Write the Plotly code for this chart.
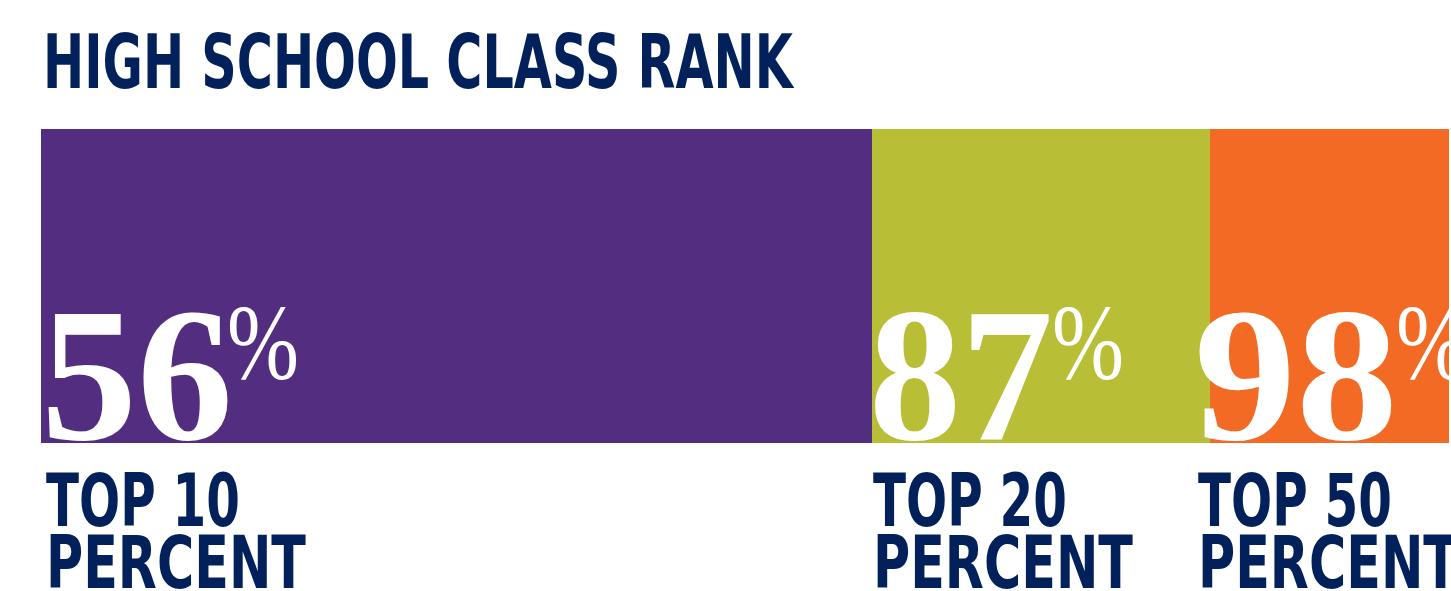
import json
import plotly.graph_objects as go

# ---- data ----
title_text = "HIGH SCHOOL CLASS RANK"
rank_line1 = ["TOP 10", "TOP 20", "TOP 50"]
rank_line2 = ["PERCENT", "PERCENT", "PERCENT"]
percent_values = [56, 87, 98]
segment_widths = [56, 22.8, 16.1]   # visual length of each coloured block
bar_colors = ["#522d80", "#b8be36", "#f26a24"]

# ---- style ----
NAVY = "#02215b"
SANS = "DejaVu Sans Condensed, DejaVu Sans, sans-serif"
SERIF = "Liberation Serif, Times New Roman, serif"
W, H = 1451, 591
ML, MR, MT, MB = 41, 2, 129, 148
PH = H - MT - MB

def py(p):
    return (H - MB - p) / PH

num_dx = [-2, -5, -18]
pct_dx = [-4, -7, 12]
lab_dx = [3, -1, -14]

# condensed / widened text widths (px) to mimic the original faces
text_widths = {title_text: 750, "TOP 10": 194, "TOP 20": 194, "TOP 50": 194,
               "PERCENT": 260, "%": 72, "56": 192, "87": 184, "98": 204}

fig = go.Figure()
starts = []
acc = 0
for name, w, c in zip(rank_line1, segment_widths, bar_colors):
    fig.add_trace(go.Bar(x=[w], y=[0], orientation="h", width=1,
                         marker=dict(color=c, line=dict(width=0)),
                         name=name, hoverinfo="skip"))
    starts.append(acc)
    acc += w

for i, (st, v) in enumerate(zip(starts, percent_values)):
    fig.add_annotation(x=st, xref="x", y=py(268), yref="paper",
                       xanchor="left", yanchor="top", xshift=num_dx[i], align="left",
                       text=str(v), showarrow=False,
                       font=dict(family=SERIF, size=190, color="white", weight="bold"))
    fig.add_annotation(x=st, xref="x", y=py(281), yref="paper",
                       xanchor="left", yanchor="top", xshift=num_dx[i] + 190 + pct_dx[i],
                       align="left", text="%", showarrow=False,
                       font=dict(family=SERIF, size=108, color="white"))
    fig.add_annotation(x=st, xref="x", y=py(456), yref="paper",
                       xanchor="left", yanchor="top", xshift=lab_dx[i], align="left",
                       text=rank_line1[i], showarrow=False,
                       font=dict(family=SANS, size=73, color=NAVY, weight="bold"))
    fig.add_annotation(x=st, xref="x", y=py(518), yref="paper",
                       xanchor="left", yanchor="top", xshift=lab_dx[i], align="left",
                       text=rank_line2[i], showarrow=False,
                       font=dict(family=SANS, size=73, color=NAVY, weight="bold"))

fig.add_annotation(x=(41 - ML) / (W - ML - MR), xref="paper", y=py(17), yref="paper",
                   xanchor="left", yanchor="top", align="left", text=title_text,
                   showarrow=False, font=dict(family=SANS, size=74, color=NAVY, weight="bold"))

fig.update_layout(
    barmode="stack", width=W, height=H, autosize=False,
    margin=dict(l=ML, r=MR, t=MT, b=MB, pad=0),
    paper_bgcolor="white", plot_bgcolor="white", showlegend=False,
    xaxis=dict(range=[0, acc], visible=False, fixedrange=True),
    yaxis=dict(range=[-0.5, 0.5], visible=False, fixedrange=True),
    bargap=0,
)

post = (
    "document.body.style.margin='0';"
    "var gd=document.getElementById('{plot_id}');"
    "var TW=" + json.dumps(text_widths) + ";"
    "function fixText(){gd.querySelectorAll('text.annotation-text').forEach(function(t){"
    "var w=TW[t.textContent];if(w){t.setAttribute('textLength',w);"
    "t.setAttribute('lengthAdjust','spacingAndGlyphs');}});}"
    "fixText();setTimeout(fixText,0);if(gd.on){gd.on('plotly_afterplot',fixText);}"
)

fig.write_html("out.html", config={"displayModeBar": False}, post_script=post)
